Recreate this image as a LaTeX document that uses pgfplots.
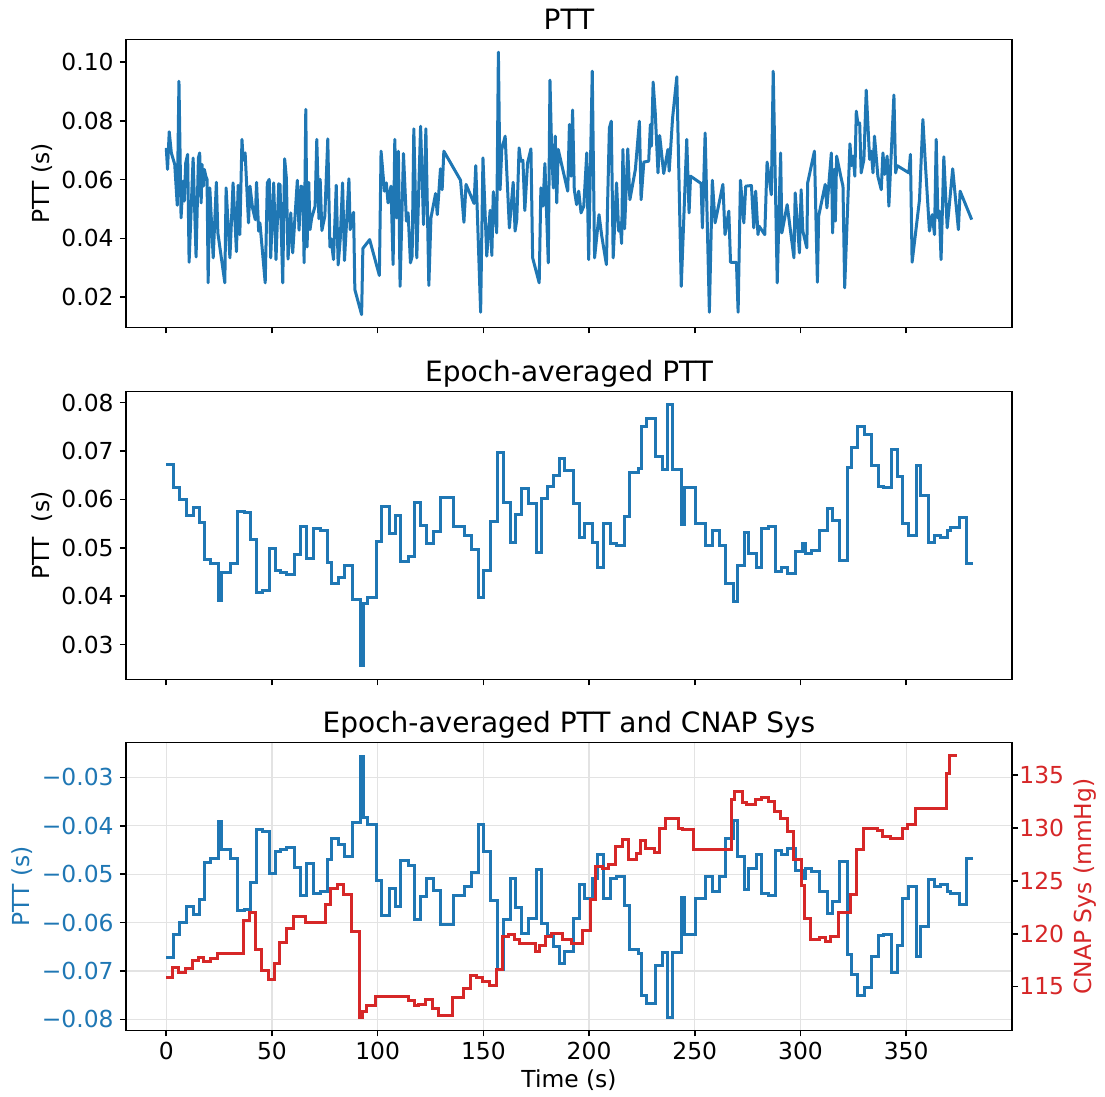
\documentclass[border=0pt]{standalone}
\usepackage{fontspec}
\setmainfont{DejaVu Sans}
\usepackage{pgfplots}
\usepackage{pgfplotstable}
\pgfplotsset{compat=1.18}

\definecolor{tabblue}{HTML}{1F77B4}
\definecolor{tabred}{HTML}{D62728}

% Raw pulse transit time, one value per beat
\pgfplotstableread{
t y
0 0.0708
0.6 0.0635
1.4 0.0763
2.4 0.0691
4.0 0.0652
5.2 0.0513
6.0 0.0935
7.0 0.0470
7.9 0.0595
8.5 0.0527
9.2 0.0657
10.1 0.0686
10.8 0.0319
12.7 0.0674
14.1 0.0337
15.2 0.0674
15.8 0.0691
16.5 0.0521
16.9 0.0652
17.6 0.0578
18.0 0.0635
18.7 0.0612
19.3 0.0601
19.8 0.0249
20.6 0.0572
22.2 0.0334
23.7 0.0591
24.4 0.0419
27.7 0.0249
28.3 0.0572
30.1 0.0334
31.6 0.0589
33.2 0.0355
34.0 0.0581
34.8 0.0413
35.8 0.0737
36.4 0.0666
37.3 0.0691
38.9 0.0453
39.6 0.0578
40.8 0.0504
42.1 0.0464
42.7 0.0591
43.7 0.0425
44.3 0.0453
46.8 0.0249
47.8 0.0589
48.7 0.0601
49.4 0.0334
50.8 0.0589
51.9 0.0328
53.2 0.0586
53.8 0.0583
55.1 0.0249
56.0 0.0671
56.8 0.0606
57.6 0.0330
58.9 0.0487
59.8 0.0351
62.0 0.0598
62.8 0.0428
63.8 0.0578
64.6 0.0572
65.2 0.0317
66.0 0.0839
66.6 0.0371
67.4 0.0591
68.0 0.0430
68.8 0.0470
70.4 0.0510
71.2 0.0737
72.2 0.0467
72.8 0.0601
73.6 0.0427
75.0 0.0476
76.4 0.0739
77.4 0.0371
78.0 0.0399
79.1 0.0328
80.4 0.0581
81.3 0.0310
82.3 0.0399
83.4 0.0589
84.3 0.0325
86.4 0.0603
87.0 0.0430
88.6 0.0489
89.2 0.0226
92.4 0.0141
93.0 0.0366
96.2 0.0396
100.8 0.0274
101.6 0.0697
103.2 0.0561
104.1 0.0589
104.9 0.0521
106.3 0.0578
107.3 0.0311
108.1 0.0737
108.9 0.0470
109.8 0.0697
110.6 0.0237
112.2 0.0689
113.6 0.0459
114.4 0.0487
115.5 0.0317
116.3 0.0340
117.1 0.0773
118.5 0.0334
120.3 0.0782
121.7 0.0447
122.8 0.0773
124.2 0.0240
125.2 0.0470
127.4 0.0553
128.2 0.0481
129.7 0.0637
130.5 0.0566
131.3 0.0697
139.2 0.0598
140.8 0.0455
141.8 0.0584
145.6 0.0519
146.4 0.0648
148.7 0.0149
149.8 0.0674
151.6 0.0340
153.2 0.0496
154.0 0.0342
154.7 0.0559
156.3 0.0419
157.1 0.1034
157.9 0.0566
158.7 0.0703
160.3 0.0748
162.3 0.0436
164.1 0.0591
165.0 0.0425
165.8 0.0464
166.9 0.0708
167.7 0.0663
168.7 0.0666
169.6 0.0495
170.9 0.0657
172.5 0.0705
173.3 0.0334
176.4 0.0249
177.2 0.0572
178.2 0.0510
179.1 0.0655
180.7 0.0317
181.5 0.0939
182.3 0.0697
183.1 0.0572
184.0 0.0748
184.7 0.0521
185.4 0.0703
189.9 0.0561
190.7 0.0788
191.5 0.0612
192.2 0.0837
193.0 0.0566
194.1 0.0515
195.1 0.0561
196.2 0.0487
197.5 0.0510
198.9 0.0691
199.8 0.0328
201.5 0.0969
202.6 0.0334
204.7 0.0481
206.0 0.0408
208.2 0.0311
208.8 0.0532
209.6 0.0776
210.5 0.0799
211.4 0.0334
213.0 0.0589
214.0 0.0425
214.7 0.0453
215.4 0.0383
216.0 0.0703
216.8 0.0433
218.3 0.0705
219.3 0.0532
221.9 0.0635
223.8 0.0799
224.6 0.0532
225.9 0.0660
228.2 0.0663
229.0 0.0788
229.5 0.0714
230.3 0.0932
231.3 0.0828
232.6 0.0623
233.4 0.0750
235.3 0.0621
237.3 0.0703
237.9 0.0629
239.5 0.0810
241.5 0.0950
243.6 0.0237
246.2 0.0737
247.3 0.0487
248.0 0.0612
253.0 0.0587
253.6 0.0436
254.9 0.0759
256.9 0.0149
258.3 0.0598
259.6 0.0453
263.3 0.0584
264.3 0.0413
266.1 0.0493
266.9 0.0319
269.7 0.0319
270.5 0.0149
271.6 0.0598
273.2 0.0453
274.1 0.0578
276.8 0.0580
277.9 0.0436
278.8 0.0561
279.9 0.0413
280.4 0.0442
281.5 0.0430
283.1 0.0413
284.2 0.0660
286.2 0.0549
287.1 0.0969
289.0 0.0249
290.6 0.0691
291.2 0.0419
293.7 0.0515
296.9 0.0334
297.5 0.0555
299.5 0.0351
300.3 0.0566
301.1 0.0425
303.0 0.0368
303.4 0.0589
306.6 0.0697
308.0 0.0251
308.6 0.0476
311.7 0.0584
312.5 0.0504
314.6 0.0691
315.2 0.0419
316.0 0.0635
316.5 0.0459
317.1 0.0680
319.3 0.0603
320.1 0.0578
320.9 0.0232
323.4 0.0722
324.2 0.0648
325.0 0.0680
325.7 0.0612
326.4 0.0833
327.2 0.0788
328.0 0.0793
328.7 0.0623
330.0 0.0669
331.1 0.0905
332.7 0.0669
333.5 0.0697
334.3 0.0623
335.0 0.0748
336.6 0.0612
338.2 0.0566
339.0 0.0691
339.8 0.0618
341.0 0.0680
341.8 0.0510
344.2 0.0888
345.0 0.0623
345.7 0.0648
351.3 0.0623
352.0 0.0686
352.8 0.0319
356.3 0.0532
357.9 0.0805
359.0 0.0663
361.0 0.0425
362.3 0.0481
363.4 0.0413
364.2 0.0737
365.0 0.0470
365.7 0.0493
366.5 0.0328
367.8 0.0678
369.4 0.0436
372.0 0.0637
374.7 0.0430
375.5 0.0561
381.0 0.0464
}\pttraw

% Epoch-averaged PTT: value held from t until the next epoch start
\pgfplotstableread{
t y
0 0.0673
3.5 0.0624
6.1 0.0599
9.4 0.0566
12.9 0.0584
15.7 0.0552
18.0 0.0475
21.1 0.0467
24.7 0.0392
26.3 0.0449
30.6 0.0468
33.7 0.0575
36.9 0.0573
39.7 0.0517
42.8 0.0408
45.7 0.0412
48.8 0.0499
51.7 0.0454
53.9 0.0449
57.0 0.0445
60.5 0.0487
63.6 0.0545
66.5 0.0477
69.6 0.0540
72.8 0.0535
76.2 0.0470
78.1 0.0427
81.3 0.0438
84.1 0.0464
87.9 0.0394
91.7 0.0257
93.2 0.0384
95.1 0.0398
99.4 0.0513
101.9 0.0585
105.4 0.0529
108.2 0.0567
110.7 0.0471
114.5 0.0482
117.6 0.0594
120.3 0.0546
123.2 0.0508
126.3 0.0534
129.5 0.0603
136.1 0.0544
141.3 0.0525
144.5 0.0497
147.8 0.0398
150.0 0.0454
153.6 0.0555
156.9 0.0697
159.3 0.0594
162.7 0.0510
165.3 0.0569
168.1 0.0623
171.4 0.0592
175.2 0.0491
177.3 0.0602
180.1 0.0627
183.4 0.0650
186.1 0.0685
188.6 0.0660
192.4 0.0592
195.7 0.0521
197.9 0.0551
201.5 0.0510
204.2 0.0459
206.9 0.0551
210.0 0.0509
213.2 0.0505
216.7 0.0564
219.2 0.0655
223.2 0.0664
224.7 0.0751
227.3 0.0767
231.5 0.0688
234.5 0.0662
236.9 0.0797
239.5 0.0662
243.6 0.0548
245.2 0.0625
250.2 0.0550
254.9 0.0504
258.4 0.0535
261.6 0.0505
264.7 0.0427
268.5 0.0390
270.2 0.0464
273.4 0.0532
275.4 0.0489
279.2 0.0459
281.7 0.0540
284.9 0.0545
288.0 0.0452
291.2 0.0459
294.0 0.0446
297.5 0.0492
301.0 0.0508
302.4 0.0488
305.3 0.0494
309.1 0.0536
312.6 0.0582
315.1 0.0556
318.4 0.0473
322.4 0.0666
324.2 0.0708
326.9 0.0751
330.2 0.0735
333.4 0.0671
336.7 0.0627
339.4 0.0624
343.2 0.0704
345.7 0.0647
348.4 0.0550
351.1 0.0525
355.0 0.0670
356.9 0.0608
360.6 0.0512
363.4 0.0526
366.1 0.0522
369.6 0.0535
371.1 0.0541
375.2 0.0562
378.5 0.0468
381.4 0.0468
}\pttepoch

% Epoch-averaged CNAP systolic pressure (mmHg)
\pgfplotstableread{
t y
0 115.85
3.1 116.8
5.8 116.35
9.1 116.7
12.6 117.5
15.4 117.75
17.6 117.35
20.8 117.7
24.4 118.1
36.5 121.3
39.3 122.05
42.1 118.5
45.0 116.5
48.4 115.7
51.3 117.2
53.5 119.2
56.9 120.5
60.1 121.6
66.0 121.05
75.5 122.8
77.7 124.25
80.8 124.7
83.6 123.7
87.4 120.2
91.2 112.1
92.8 112.65
94.7 113.2
99.1 114.1
114.5 113.65
117.3 113.2
119.5 113.3
122.4 113.8
125.9 112.95
128.7 112.25
135.4 114.0
140.6 114.85
144.0 116.05
146.7 115.9
149.5 115.5
153.1 115.1
156.3 116.6
159.0 119.7
161.8 119.95
164.5 119.45
167.2 119.1
174.7 118.35
176.6 118.85
179.4 119.7
182.3 120.0
187.3 119.45
191.7 119.1
197.1 120.3
200.8 123.25
203.1 126.4
206.2 126.2
209.4 126.55
212.5 128.25
215.7 128.9
218.5 127.0
222.3 127.55
224.3 128.8
226.7 128.1
231.1 127.7
233.3 130.0
236.1 130.9
242.1 130.0
244.0 129.9
249.5 127.95
267.5 132.75
269.0 133.45
272.5 132.4
274.6 132.2
278.6 132.7
281.7 132.9
284.9 132.5
287.8 131.6
290.5 130.9
293.7 129.65
296.8 127.0
300.3 124.6
301.9 121.45
304.8 119.5
309.2 119.65
311.9 119.3
314.3 119.7
317.9 122.05
323.8 123.75
326.7 127.95
329.7 129.95
336.2 129.8
338.9 129.2
342.5 129.05
348.1 129.95
350.8 130.3
354.4 131.85
369.0 135.2
370.6 136.9
373.8 136.9
}\cnapsys

\pgfplotsset{
  panel/.style={
    scale only axis, width=443pt, height=144pt,
    xmin=-19.05, xmax=400.05,
    xtick={0,50,...,350},
    scaled ticks=false,
    tick align=outside, major tick length=3pt,
    xtick pos=left, ytick pos=left,
    axis line style={line width=0.8pt},
    every tick/.style={black, line width=0.8pt},
    tick label style={font=\fontsize{11.7}{14}\selectfont, inner sep=0pt},
    xticklabel style={anchor=north, yshift=-2.75pt},
    yticklabel style={anchor=east, xshift=-3pt},
    label style={font=\fontsize{11.7}{14}\selectfont},
    every axis title/.style={font=\fontsize{14}{17}\selectfont, at={(0.5,1)}, anchor=base, yshift=5pt},
    every axis y label/.style={font=\fontsize{11.7}{14}\selectfont, at={(axis description cs:-0.0948,0.5)}, anchor=center, rotate=90},
  },
  ptt/.style={tabblue, line width=1.5pt, line join=round},
}

\begin{document}
\begin{tikzpicture}
\useasboundingbox (0,0) rectangle (552.5pt,548.5pt);

% Raw PTT
\begin{axis}[panel, at={(63pt,384.75pt)}, anchor=south west,
  title={PTT}, ylabel={PTT (s)},
  ymin=0.0097, ymax=0.1077,
  ytick={0.02,0.04,0.06,0.08,0.10},
  yticklabels={0.02,0.04,0.06,0.08,0.10},
  xticklabels={}]
\addplot[ptt] table[x=t, y=y] {\pttraw};
\end{axis}

% Epoch-averaged PTT
\begin{axis}[panel, at={(63pt,208.75pt)}, anchor=south west,
  title={Epoch-averaged PTT}, ylabel={PTT\ \ (s)},
  ymin=0.0228, ymax=0.0823,
  ytick={0.03,0.04,0.05,0.06,0.07,0.08},
  yticklabels={0.03,0.04,0.05,0.06,0.07,0.08},
  xticklabels={}]
\addplot[ptt, const plot mark left, line join=miter] table[x=t, y=y] {\pttepoch};
\end{axis}

% Epoch-averaged PTT (sign flipped) against CNAP systolic pressure
\begin{axis}[panel, at={(63pt,33.25pt)}, anchor=south west,
  title={Epoch-averaged PTT and CNAP Sys},
  xlabel={Time (s)},
  xlabel style={at={(axis description cs:0.5,-0.172)}, anchor=center},
  ylabel={PTT (s)},
  ylabel style={at={(axis description cs:-0.1174,0.5)}, text=tabblue},
  ymin=-0.0823, ymax=-0.0228,
  ytick={-0.08,-0.07,-0.06,-0.05,-0.04,-0.03},
  yticklabels={−0.08,−0.07,−0.06,−0.05,−0.04,−0.03},
  yticklabel style={text=tabblue},
  xticklabels={0,50,100,150,200,250,300,350},
  xmajorgrids, ymajorgrids,
  major grid style={black!11, line width=0.6pt}]
\addplot[ptt, const plot mark left, line join=miter] table[x=t, y expr=-\thisrow{y}] {\pttepoch};
\end{axis}
\begin{axis}[panel, at={(63pt,33.25pt)}, anchor=south west,
  axis x line=none, axis y line*=right, ytick pos=right,
  ymin=110.85, ymax=138.1,
  ytick={115,120,125,130,135},
  yticklabels={115,120,125,130,135},
  yticklabel style={anchor=west, xshift=3.5pt, text=tabred},
  ylabel={CNAP Sys (mmHg)},
  ylabel style={at={(axis description cs:1.0824,0.5)}, text=tabred}]
\addplot[tabred, line width=1.5pt, const plot mark left] table[x=t, y=y] {\cnapsys};
\end{axis}
\end{tikzpicture}
\end{document}
